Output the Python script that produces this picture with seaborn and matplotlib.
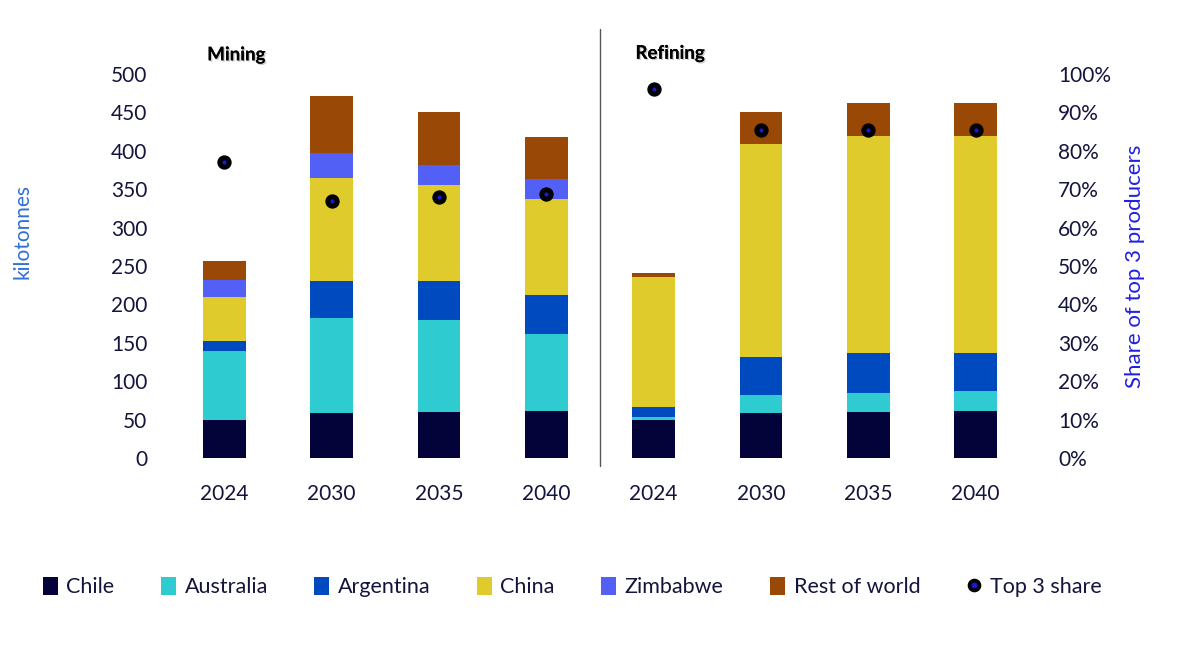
import numpy as np
import pandas as pd
import matplotlib
matplotlib.use("Agg")
import matplotlib.pyplot as plt
import matplotlib.patheffects as pe
import seaborn as sns
from matplotlib.lines import Line2D
from matplotlib.patches import Patch

# DATA (kilotonnes)

groups = ["Mining", "Refining"]
years = ["2024", "2030", "2035", "2040"]
chile = [49, 59, 60, 61, 49, 59, 60, 61]
australia = [90, 123, 120, 101, 4, 23, 25, 26]
argentina = [14, 49, 51, 50, 14, 50, 52, 50]
china = [57, 134, 125, 125, 169, 277, 282, 282]
zimbabwe = [22, 32, 26, 26, 0, 0, 0, 0]
rest_of_world = [24, 74, 68, 55, 5, 42, 43, 43]
top3_share = [0.77, 0.67, 0.68, 0.687, 0.962, 0.855, 0.853, 0.853]

series_names = ["Chile", "Australia", "Argentina", "China", "Zimbabwe", "Rest of world"]
series_values = [chile, australia, argentina, china, zimbabwe, rest_of_world]
colors = ["#03033a", "#2ecbd1", "#004abf", "#dfcb2c", "#5260f5", "#9a4806"]

labels = [g + " " + y for g in groups for y in years]
tick_labels = years + years

df = pd.DataFrame(dict(zip(series_names, series_values)), index=labels)
cum = df.cumsum(axis=1)

sns.set_theme(style="white")
plt.rcParams["font.family"] = ["Lato", "DejaVu Sans"]
text_col = "#14143c"

fig = plt.figure(figsize=(12, 6.48), dpi=100)
ax = fig.add_axes([0.1333, 0.2932, 0.7334, 0.5926])

# STACKED BARS (draw cumulative totals from top down)

for name, col in reversed(list(zip(series_names, colors))):
    sns.barplot(x=labels, y=cum[name].values, color=col, width=0.4,
                saturation=1, ax=ax, linewidth=0)

ax.set_xlim(-0.6, 7.6)
ax.set_ylim(0, 500)
ax.set_yticks(range(0, 501, 50))
ax.set_xticks(range(8))
ax.set_xticklabels(tick_labels)
ax.tick_params(axis="x", length=0, pad=19, labelsize=15, labelcolor=text_col)
ax.tick_params(axis="y", length=0, pad=9, labelsize=15, labelcolor=text_col)
ax.set_ylabel("kilotonnes", fontsize=15, color="#2f6fd8")
ax.yaxis.set_label_coords(-0.145, 0.59)
sns.despine(ax=ax, left=True, bottom=True)

# TOP 3 SHARE ON SECONDARY AXIS

ax2 = ax.twinx()
sns.scatterplot(x=np.arange(8), y=top3_share, ax=ax2, marker="o", s=45,
                color="#1a1acc", edgecolor="black", linewidth=3.6,
                legend=False, zorder=5)
ax2.set_ylim(0, 1)
ax2.set_yticks(np.arange(0, 1.01, 0.1))
ax2.set_yticklabels([f"{int(round(v * 100))}%" for v in np.arange(0, 1.01, 0.1)])
ax2.tick_params(axis="y", length=0, pad=13, labelsize=15, labelcolor=text_col)
ax2.set_ylabel("Share of top 3 producers", fontsize=16, color="#2020e0")
ax2.yaxis.set_label_coords(1.097, 0.5)
ax2.grid(False)
ax.grid(False)
sns.despine(ax=ax2, left=True, bottom=True, right=True)

# DIVIDER AND GROUP TITLES

ax.plot([3.5, 3.5], [-10, 558], color="#555555", lw=1, clip_on=False)
shadow = [pe.withSimplePatchShadow(offset=(1, -1), shadow_rgbFace="#999999", alpha=0.5),
          pe.Normal()]
ax.text(-0.16, 525, "Mining", fontsize=13.5, fontweight="bold", color="black",
        ha="left", va="center", path_effects=shadow)
ax.text(3.83, 527, "Refining", fontsize=13.5, fontweight="bold", color="black",
        ha="left", va="center", path_effects=shadow)

# LEGEND

handles = [Patch(facecolor=c, edgecolor="none") for c in colors]
handles.append(Line2D([0], [0], marker="o", linestyle="none", markersize=7,
                      markerfacecolor="#1a1acc", markeredgecolor="black",
                      markeredgewidth=2.8))
fig.legend(handles, series_names + ["Top 3 share"], loc="center",
           bbox_to_anchor=(0.477, 0.094), ncol=7, frameon=False,
           fontsize=15.5, labelcolor=text_col, handlelength=0.7,
           handleheight=0.9, handletextpad=0.4, columnspacing=2.15)

plt.savefig("out.png", dpi=100)
